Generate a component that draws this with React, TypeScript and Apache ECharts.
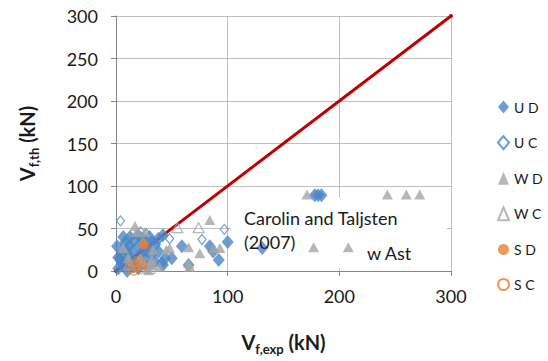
import React, { useEffect, useRef } from "react";
import * as echarts from "echarts";

const xTicks = [0, 100, 200, 300];
const yTicks = [0, 50, 100, 150, 200, 250, 300];

const seriesNames = ["U D", "U C", "W D", "W C", "S D", "S C"];

const udData = [
  [2, 16], [6.5, 40], [12.5, 40], [20, 42], [24, 38], [32, 34], [8, 33], [1, 29], [5, 19],
  [14, 23], [20, 29], [32, 19], [38, 23], [35, 11], [42, 7], [2, 3], [10, 0], [29, 5],
  [20, 3], [4, 13], [17, 11], [26, 15], [12, 30], [16, 36], [9, 24], [27, 24], [42, 42],
  [6, 8], [14, 15], [22, 20], [28, 28], [35, 31], [38, 38], [16, 5], [8, 10], [30, 40],
  [41, 9], [50, 15], [59, 29], [84, 29], [87, 23], [92, 13], [65, 7], [100, 34], [44, 15],
  [131, 27], [178, 89], [181, 89], [184, 89],
];
const ucData = [[4, 59], [27, 44], [48, 38], [77, 37], [97, 49], [3, 15], [22, 46]];
const wdData = [
  [17, 53], [84, 60], [6.5, 27], [23, 13], [32, 7], [29, 1], [32, 13], [45, 25], [24, 11],
  [48, 27], [65, 28], [75, 21], [87, 27], [93, 27], [65, 9], [66, 5], [39, 5], [33, 25],
  [11, 15], [21.5, 15], [26, 46], [18.5, 46], [171, 90], [243, 90], [260, 90], [272, 90],
  [177, 28], [208, 28],
];
const wcData = [[55, 51], [74, 51], [30, 3], [12, 8]];
const sdData = [[25, 31]];
const scData = [[12.5, 3], [17, 7], [20, 11], [21.5, 3], [15.5, 1], [18, 5], [23, 7]];
const refLine = [[0, 0], [36, 36], [300, 300]];

const BLUE = "#4A86C6";
const GRAY = "#A5A5A5";
const ORANGE = "#ED7D31";
const FONT = "Lato";
const TXT = "#1a1a1a";

export default function App() {
  const ref = useRef<HTMLDivElement>(null);
  useEffect(() => {
    const chart = echarts.init(ref.current!, null, { renderer: "svg" });
    const open = (c: string) => ({ color: "rgba(255,255,255,0)", borderColor: c, borderWidth: 1.2 });
    const axisName = (sub: string) => "{v|V}{s|" + sub + "}{v| (kN)}";
    const nameRich = {
      v: { fontFamily: FONT, fontSize: 20, fontWeight: "bold", color: TXT, lineHeight: 26 },
      s: { fontFamily: FONT, fontSize: 13, fontWeight: "bold", color: TXT, verticalAlign: "bottom", lineHeight: 16 },
    };
    chart.setOption({
      animation: false,
      textStyle: { fontFamily: FONT },
      grid: { left: 116, right: 97, top: 16, bottom: 90 },
      xAxis: {
        type: "value",
        min: xTicks[0],
        max: xTicks[xTicks.length - 1],
        interval: 100,
        axisLine: { show: true, lineStyle: { color: "#868686", width: 1 } },
        axisTick: { show: true, length: 5, lineStyle: { color: "#868686" } },
        splitLine: { show: true, lineStyle: { color: "#BFBFBF", width: 1 } },
        axisLabel: { fontFamily: FONT, fontSize: 18, color: TXT, margin: 16 },
        name: axisName("f,exp"),
        nameLocation: "middle",
        nameGap: 58,
        nameTextStyle: { rich: nameRich },
      },
      yAxis: {
        type: "value",
        min: yTicks[0],
        max: yTicks[yTicks.length - 1],
        interval: 50,
        axisLine: { show: true, lineStyle: { color: "#868686", width: 1 } },
        axisTick: { show: true, length: 5, lineStyle: { color: "#868686" } },
        splitLine: { show: true, lineStyle: { color: "#BFBFBF", width: 1 } },
        axisLabel: { fontFamily: FONT, fontSize: 18, color: TXT, margin: 18 },
        name: axisName("f,th"),
        nameLocation: "middle",
        nameGap: 76,
        nameTextStyle: { rich: nameRich },
      },
      legend: {
        orient: "vertical",
        left: 492,
        top: 95,
        itemWidth: 11,
        itemHeight: 13,
        itemGap: 21.1,
        textStyle: { fontFamily: FONT, fontSize: 14, color: TXT },
        data: seriesNames,
      },
      graphic: {
        elements: [
          { type: "rect", z: 1, shape: { x: 231, y: 198, width: 216, height: 70 }, style: { fill: "#fff" } },
          { type: "text", z: 100, left: 244, top: 206, style: { text: "Carolin and Taljsten\n(2007)", font: `18px ${FONT}`, fill: TXT, lineHeight: 24 } },
          { type: "text", z: 100, left: 367, top: 244, style: { text: "w Ast", font: `18px ${FONT}`, fill: TXT } },
        ],
      },
      series: [
        {
          name: "ref", type: "line", data: refLine, z: 1,
          symbol: "circle", symbolSize: 4, showSymbol: true,
          itemStyle: { color: "#C00000" }, lineStyle: { color: "#C00000", width: 3 },
        },
        { name: seriesNames[0], type: "scatter", z: 3, data: udData, symbol: "diamond", symbolSize: [12, 14], itemStyle: { color: BLUE } },
        { name: seriesNames[1], type: "scatter", z: 3, data: ucData, symbol: "diamond", symbolSize: [8, 10], itemStyle: open(BLUE) },
        { name: seriesNames[2], type: "scatter", z: 3, data: wdData, symbol: "triangle", symbolSize: [11, 10], itemStyle: { color: GRAY } },
        { name: seriesNames[3], type: "scatter", z: 3, data: wcData, symbol: "triangle", symbolSize: [11, 10], itemStyle: open(GRAY) },
        { name: seriesNames[4], type: "scatter", z: 3, data: sdData, symbol: "circle", symbolSize: 10, itemStyle: { color: ORANGE } },
        { name: seriesNames[5], type: "scatter", z: 3, data: scData, symbol: "circle", symbolSize: 10, itemStyle: open(ORANGE) },
      ],
    });
    return () => chart.dispose();
  }, []);
  return <div ref={ref} style={{ width: 548, height: 361, position: "absolute", left: 0, top: 0 }} />;
}
